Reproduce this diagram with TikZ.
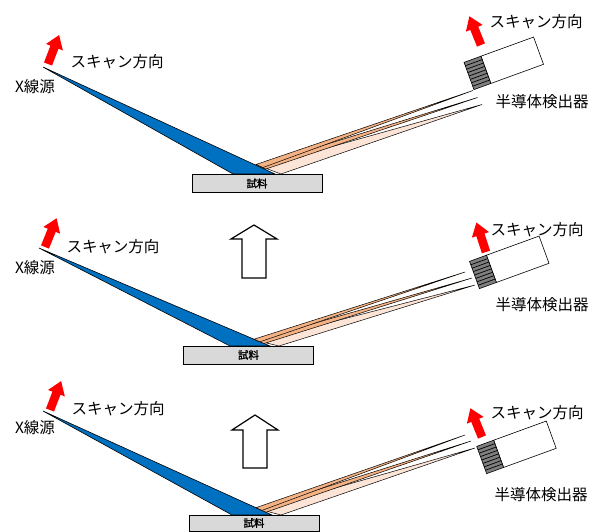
\documentclass[tikz,border=0pt]{standalone}
\usepackage{fontspec}
\setmainfont[AutoFakeBold=1.5]{Noto Sans CJK JP}
\usetikzlibrary{positioning}
\definecolor{beamblue}{HTML}{0070C0}
\definecolor{peach}{HTML}{FCE4D6}
\definecolor{orangeray}{HTML}{F4B183}
\definecolor{samplegray}{HTML}{D9D9D9}
\definecolor{gridgray}{HTML}{7F7F7F}

\begin{document}
\begin{tikzpicture}[x=1pt, y=-1pt,
  lbl/.style={font=\fontsize{15.5}{18}\selectfont, inner sep=0pt},
  sample/.style={draw, fill=samplegray, line width=0.8pt, minimum width=130pt, minimum height=18pt, inner sep=0pt, font=\fontsize{10.5}{12}\selectfont\bfseries},
  beam/.style={fill=beamblue, draw=black, line width=0.6pt},
  ray/.style={draw=black, line width=0.5pt},
  bigarrow/.style={draw, fill=white, line width=1.2pt}]
\useasboundingbox (0,0) rectangle (595,532);

% top row
\filldraw[beam] (43,67) -- (233,174) -- (275,174) -- cycle;
\filldraw[ray, fill=peach] (482,104.5) -- (261,166.5) -- (281,174) -- cycle;
\filldraw[ray, fill=orangeray] (477.5,97.5) -- (258,165.5) -- (266,169) -- cycle;
\filldraw[ray, fill=orangeray] (473,90.5) -- (256,164.5) -- (263,167.5) -- cycle;
\node[sample] (smp1) at (257,183.5) {試料};
\begin{scope}[shift={(469,76)}, rotate=20]
  \draw[fill=white, line width=0.6pt] (18,-14.5) rectangle (74,14.5);
  \draw[fill=gridgray, line width=0.6pt] (0,-14.5) rectangle (18,14.5);
  \foreach \k in {1,...,7} \draw[line width=0.7pt] (0,-14.5+3.625*\k) -- (18,-14.5+3.625*\k);
\end{scope}
\begin{scope}[shift={(48,64)}, rotate=69]
  \fill[red] (0,-4.3) -- (18,-4.3) -- (18,-9) -- (31,0) -- (18,9) -- (18,4.3) -- (0,4.3) -- cycle;
\end{scope}
\begin{scope}[shift={(481,45)}, rotate=112]
  \fill[red] (0,-4.3) -- (18,-4.3) -- (18,-9) -- (31,0) -- (18,9) -- (18,4.3) -- (0,4.3) -- cycle;
\end{scope}
\node[lbl] (scanL1) at (117,62) {スキャン方向};
\node[lbl] (src1) at (35,87) {X線源};
\node[lbl] (scanR1) at (536,22) {スキャン方向};
\node[lbl] (det1) at (542,102) {半導体検出器};

% middle row
\draw[bigarrow] (242,278) -- (242,239) -- (231,239) -- (254,225) -- (277,239) -- (266,239) -- (266,278) -- cycle;
\filldraw[beam] (39,248) -- (230,346) -- (270,346) -- cycle;
\filldraw[ray, fill=peach] (475,285) -- (258,341) -- (279,346) -- cycle;
\filldraw[ray, fill=orangeray] (472,278) -- (256,340) -- (264,343.5) -- cycle;
\filldraw[ray, fill=orangeray] (465,272) -- (254,339.2) -- (260,341.8) -- cycle;
\node[sample] (smp2) at (248.5,355) {試料};
\begin{scope}[shift={(474.5,275)}, rotate=20]
  \draw[fill=white, line width=0.6pt] (18,-14.5) rectangle (74,14.5);
  \draw[fill=gridgray, line width=0.6pt] (0,-14.5) rectangle (18,14.5);
  \foreach \k in {1,...,7} \draw[line width=0.7pt] (0,-14.5+3.625*\k) -- (18,-14.5+3.625*\k);
\end{scope}
\begin{scope}[shift={(45,247)}, rotate=68]
  \fill[red] (0,-4.3) -- (18,-4.3) -- (18,-9) -- (31,0) -- (18,9) -- (18,4.3) -- (0,4.3) -- cycle;
\end{scope}
\begin{scope}[shift={(486,252)}, rotate=108]
  \fill[red] (0,-4.3) -- (18,-4.3) -- (18,-9) -- (31,0) -- (18,9) -- (18,4.3) -- (0,4.3) -- cycle;
\end{scope}
\node[lbl] (scanL2) at (113,247) {スキャン方向};
\node[lbl] (src2) at (35,268) {X線源};
\node[lbl] (scanR2) at (537,230) {スキャン方向};
\node[lbl] (det2) at (542,305) {半導体検出器};

% bottom row
\draw[bigarrow] (243,468) -- (243,430) -- (232,430) -- (255,415) -- (278,430) -- (267,430) -- (267,468) -- cycle;
\filldraw[beam] (43,411) -- (232,515) -- (272,515) -- cycle;
\filldraw[ray, fill=peach] (475,448) -- (260,509.5) -- (281,515) -- cycle;
\filldraw[ray, fill=orangeray] (471,441) -- (258,508.6) -- (266,512.2) -- cycle;
\filldraw[ray, fill=orangeray] (465,435) -- (256,507.7) -- (262,510.4) -- cycle;
\node[sample, minimum height=16pt] (smp3) at (254,523) {試料};
\begin{scope}[shift={(481.7,460)}, rotate=20]
  \draw[fill=white, line width=0.6pt] (18,-14.5) rectangle (74,14.5);
  \draw[fill=gridgray, line width=0.6pt] (0,-14.5) rectangle (18,14.5);
  \foreach \k in {1,...,7} \draw[line width=0.7pt] (0,-14.5+3.625*\k) -- (18,-14.5+3.625*\k);
\end{scope}
\begin{scope}[shift={(50,410)}, rotate=69]
  \fill[red] (0,-4.3) -- (18,-4.3) -- (18,-9) -- (31,0) -- (18,9) -- (18,4.3) -- (0,4.3) -- cycle;
\end{scope}
\begin{scope}[shift={(482,437)}, rotate=112]
  \fill[red] (0,-4.3) -- (18,-4.3) -- (18,-9) -- (31,0) -- (18,9) -- (18,4.3) -- (0,4.3) -- cycle;
\end{scope}
\node[lbl] (scanL3) at (118,409) {スキャン方向};
\node[lbl] (src3) at (35,428) {X線源};
\node[lbl] (scanR3) at (537,413) {スキャン方向};
\node[lbl] (det3) at (541,495) {半導体検出器};
\end{tikzpicture}
\end{document}
